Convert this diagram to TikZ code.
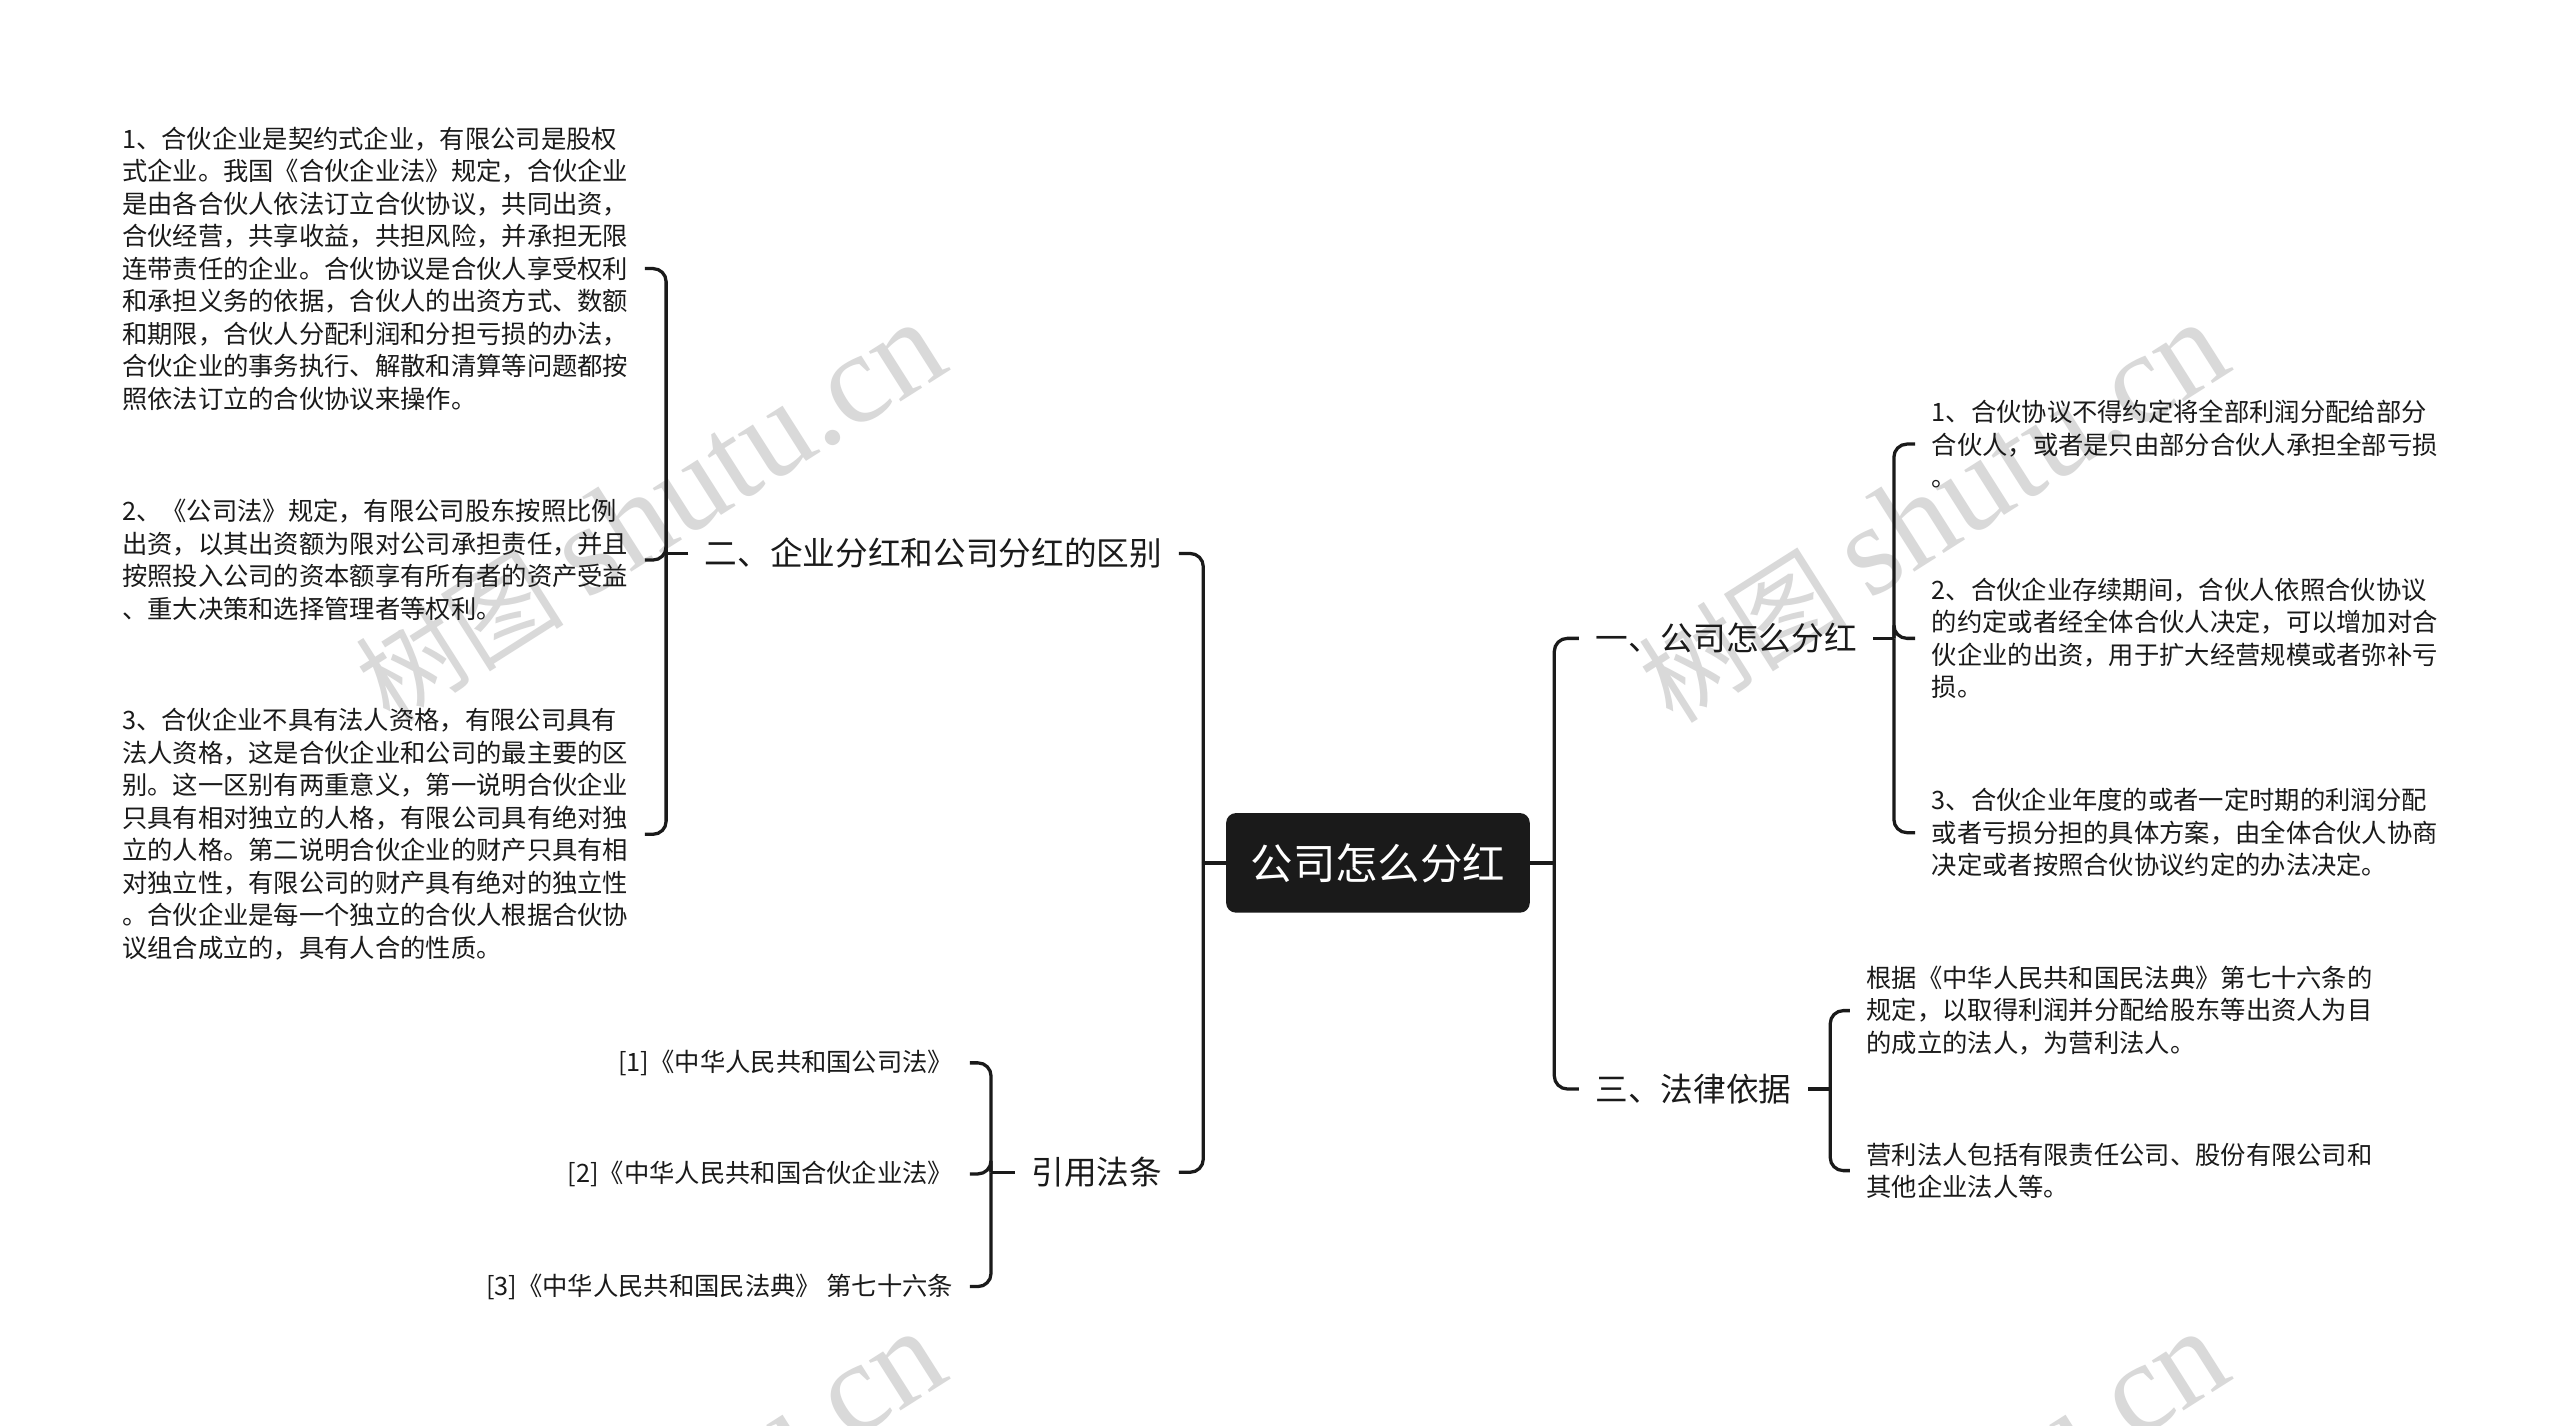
\documentclass[tikz,border=0pt]{standalone}
\usepackage{fontspec}
\setmainfont{Noto Sans CJK SC}
\newfontfamily\wmserif{Liberation Serif}
\usetikzlibrary{calc}
\definecolor{ink}{HTML}{1A1A1A}
\definecolor{wm}{HTML}{D9D9D9}
\begin{document}
\begin{tikzpicture}[x=1pt,y=-1pt,
  conn/.style={line width=2pt, draw=ink, rounded corners=8pt},
  leafL/.style={anchor=east, align=left, inner xsep=10pt, inner ysep=0pt, text=ink, font=\fontsize{15.5}{19.9}\selectfont},
  leafR/.style={anchor=west, align=left, inner xsep=10pt, inner ysep=0pt, text=ink, font=\fontsize{15.5}{19.9}\selectfont},
  topic/.style={inner xsep=10pt, inner ysep=0pt, text=ink, font=\fontsize{20}{24}\selectfont},
  rootbox/.style={fill=ink, rounded corners=6pt, minimum width=186pt, minimum height=61pt, text=white, font=\fontsize{26}{30}\selectfont},
  wmark/.style={rotate=32.4, text=wm, inner sep=0pt}
]
\useasboundingbox (0,0) rectangle (1568,873);
\fill[white] (0,0) rectangle (1568,873);

% watermarks
\begin{scope}
\clip (0,0) rectangle (1568,873);
\node[wmark] (wm1) at (398,314) {\fontsize{64}{64}\selectfont 树图 {\wmserif\fontsize{79}{79}\selectfont shutu.cn}};
\node[wmark] (wm2) at (1184,314) {\fontsize{64}{64}\selectfont 树图 {\wmserif\fontsize{79}{79}\selectfont shutu.cn}};
\node[wmark] (wm3) at (398,932) {\fontsize{64}{64}\selectfont 树图 {\wmserif\fontsize{79}{79}\selectfont shutu.cn}};
\node[wmark] (wm4) at (1184,932) {\fontsize{64}{64}\selectfont 树图 {\wmserif\fontsize{79}{79}\selectfont shutu.cn}};
\end{scope}

% root
\node[rootbox] (root) at (844,528.5) {公司怎么分红};

% main topics
\node[topic, anchor=east] (t2) at (722,339) {二、企业分红和公司分红的区别};
\node[topic, anchor=east] (t4) at (722,718) {引用法条};
\node[topic, anchor=west] (t1) at (967,391) {一、公司怎么分红};
\node[topic, anchor=west] (t3) at (967,667) {三、法律依据};

% leaves of t2
\node[leafL] (a) at (395,164.5) {1、合伙企业是契约式企业，有限公司是股权\\
式企业。我国《合伙企业法》规定，合伙企业\\
是由各合伙人依法订立合伙协议，共同出资，\\
合伙经营，共享收益，共担风险，并承担无限\\
连带责任的企业。合伙协议是合伙人享受权利\\
和承担义务的依据，合伙人的出资方式、数额\\
和期限，合伙人分配利润和分担亏损的办法，\\
合伙企业的事务执行、解散和清算等问题都按\\
照依法订立的合伙协议来操作。};
\node[leafL] (b) at (395,343) {2、《公司法》规定，有限公司股东按照比例\\
出资，以其出资额为限对公司承担责任，并且\\
按照投入公司的资本额享有所有者的资产受益\\
、重大决策和选择管理者等权利。};
\node[leafL] (c) at (395,511) {3、合伙企业不具有法人资格，有限公司具有\\
法人资格，这是合伙企业和公司的最主要的区\\
别。这一区别有两重意义，第一说明合伙企业\\
只具有相对独立的人格，有限公司具有绝对独\\
立的人格。第二说明合伙企业的财产只具有相\\
对独立性，有限公司的财产具有绝对的独立性\\
。合伙企业是每一个独立的合伙人根据合伙协\\
议组合成立的，具有人合的性质。};

% leaves of t1
\node[leafR] (d) at (1173,272) {1、合伙协议不得约定将全部利润分配给部分\\
合伙人，或者是只由部分合伙人承担全部亏损\\
。};
\node[leafR] (e) at (1173,391) {2、合伙企业存续期间，合伙人依照合伙协议\\
的约定或者经全体合伙人决定，可以增加对合\\
伙企业的出资，用于扩大经营规模或者弥补亏\\
损。};
\node[leafR] (f) at (1173,510) {3、合伙企业年度的或者一定时期的利润分配\\
或者亏损分担的具体方案，由全体合伙人协商\\
决定或者按照合伙协议约定的办法决定。};

% leaves of t3
\node[leafR] (g) at (1133,619) {根据《中华人民共和国民法典》第七十六条的\\
规定，以取得利润并分配给股东等出资人为目\\
的成立的法人，为营利法人。};
\node[leafR] (h) at (1133,717) {营利法人包括有限责任公司、股份有限公司和\\
其他企业法人等。};

% leaves of t4
\node[leafL] (i) at (594,651) {[1]《中华人民共和国公司法》};
\node[leafL] (j) at (594,719) {[2]《中华人民共和国合伙企业法》};
\node[leafL] (k) at (594,788) {[3]《中华人民共和国民法典》 第七十六条};

% junctions
\coordinate (jL) at (737,528.5);
\coordinate (jR) at (952,528.5);
\coordinate (j2) at (408,339);
\coordinate (j1) at (1160,391);
\coordinate (j3) at (1121,667);
\coordinate (j4) at (607,718);

% root connectors
\draw[conn] (root.west) -- (jL);
\draw[conn] (jL) |- (t2.east);
\draw[conn] (jL) |- (t4.east);
\draw[conn] (root.east) -- (jR);
\draw[conn] (jR) |- (t1.west);
\draw[conn] (jR) |- (t3.west);

% t2 bracket
\draw[conn] (t2.west) -- (j2);
\draw[conn] (j2) |- (a.east);
\draw[conn] (j2) |- (b.east);
\draw[conn] (j2) |- (c.east);

% t1 bracket
\draw[conn] (t1.east) -- (j1);
\draw[conn] (j1) |- (d.west);
\draw[conn] (j1) |- (e.west);
\draw[conn] (j1) |- (f.west);

% t3 bracket
\draw[conn] (t3.east) -- (j3);
\draw[conn] (j3) |- (g.west);
\draw[conn] (j3) |- (h.west);

% t4 bracket
\draw[conn] (t4.west) -- (j4);
\draw[conn] (j4) |- (i.east);
\draw[conn] (j4) |- (j.east);
\draw[conn] (j4) |- (k.east);
\end{tikzpicture}
\end{document}
